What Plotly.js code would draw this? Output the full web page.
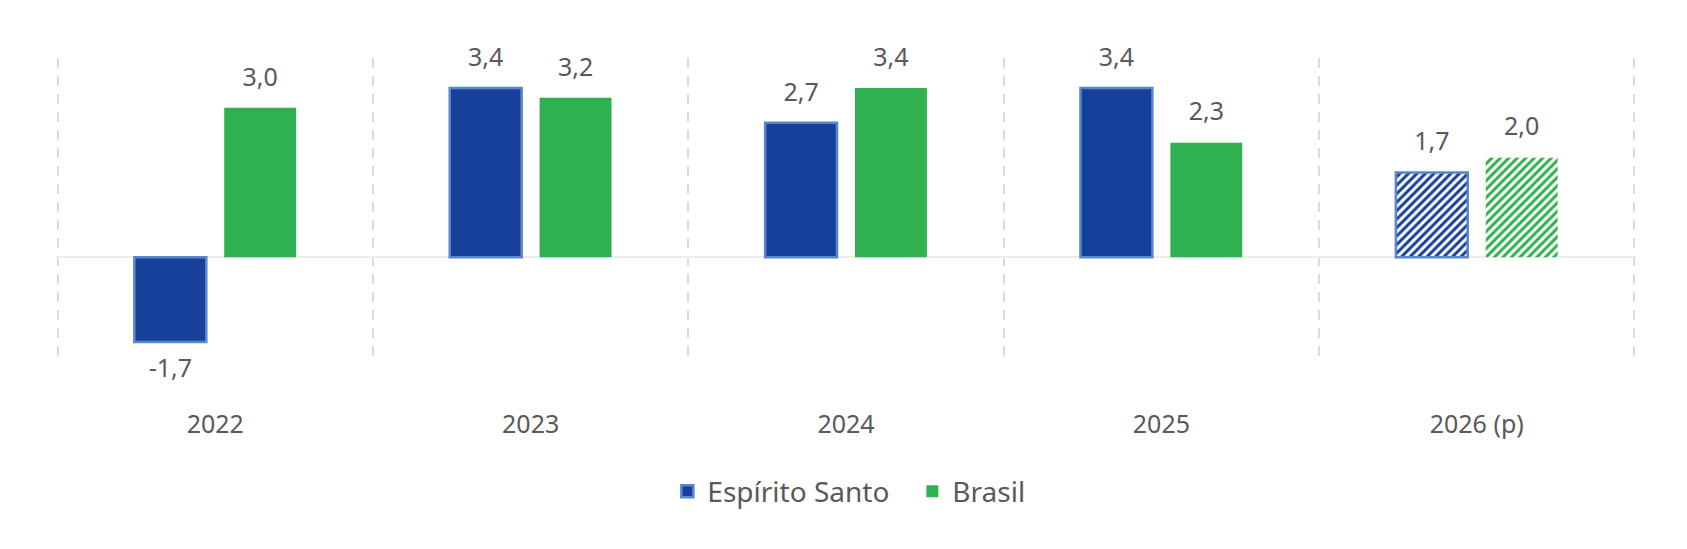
<!DOCTYPE html>
<html>
<head>
<meta charset="utf-8">
<script src="https://cdn.plot.ly/plotly-3.0.1.min.js"></script>
<style>html,body{margin:0;padding:0;background:#fff;}#chart{width:1687px;height:549px;}</style>
</head>
<body>
<div id="chart"></div>
<script>
const categories = ['2022', '2023', '2024', '2025', '2026 (p)'];
const espiritoSanto = [-1.7, 3.4, 2.7, 3.4, 1.7];
const brasil = [3.0, 3.2, 3.4, 2.3, 2.0];
const projected = [false, false, false, false, true];
const seriesNames = ['Espírito Santo', 'Brasil'];

const BLUE = '#17409a', BLUE_EDGE = '#5a86cc', GREEN = '#2eb14e';
const TEXT = '#595959';
const FONT = 'Noto Sans, Open Sans, sans-serif';
const BARGAP = 0.43;

function fmt(v) { return v.toFixed(1).replace('.', ','); }

function barTrace(name, values, color, edge, edgeW) {
  return {
    type: 'bar', name: name, x: categories, y: values,
    marker: {
      color: color,
      line: {color: edge, width: edgeW},
      pattern: {
        shape: projected.map(p => p ? '/' : ''),
        fgcolor: color, bgcolor: '#ffffff', size: 6, solidity: 0.5, fillmode: 'replace'
      }
    },
    hoverinfo: 'x+y+name'
  };
}

function labelTrace(values) {
  return {
    type: 'scatter', mode: 'markers+text', orientation: 'v',
    x: categories, y: values,
    text: values.map(fmt),
    textposition: values.map(v => v >= 0 ? 'top center' : 'bottom center'),
    textfont: {family: FONT, size: 25, color: TEXT},
    marker: {size: 24, opacity: 0},
    showlegend: false, hoverinfo: 'skip', cliponaxis: false
  };
}

const data = [
  barTrace(seriesNames[0], espiritoSanto, BLUE, BLUE_EDGE, 2.5),
  barTrace(seriesNames[1], brasil, GREEN, GREEN, 0),
  labelTrace(espiritoSanto),
  labelTrace(brasil)
];

const layout = {
  width: 1687, height: 549,
  margin: {l: 56, r: 51, t: 58, b: 192},
  paper_bgcolor: '#ffffff', plot_bgcolor: '#ffffff',
  font: {family: FONT, color: TEXT, size: 25},
  separators: ',.',
  barmode: 'group', bargap: BARGAP, bargroupgap: 0.2,
  scattermode: 'group', scattergap: BARGAP,
  showlegend: true,
  legend: {
    orientation: 'h', x: 0.542, xanchor: 'center', y: -0.45, yanchor: 'middle',
    font: {family: FONT, size: 28, color: TEXT}, traceorder: 'normal',
    entrywidth: 200, entrywidthmode: 'pixels'
  },
  xaxis: {
    type: 'category', range: [-0.505, 4.505], fixedrange: true,
    tickson: 'boundaries', ticks: '', showline: false,
    showgrid: true, gridcolor: '#dcdcdc', gridwidth: 2, griddash: '10px,8px',
    zeroline: false,
    tickfont: {family: FONT, size: 25, color: TEXT},
    ticklabelstandoff: 50
  },
  yaxis: {
    range: [-2, 4], fixedrange: true,
    showgrid: false, showticklabels: false, ticks: '', showline: false,
    zeroline: true, zerolinecolor: '#ececec', zerolinewidth: 2
  }
};

Plotly.newPlot('chart', data, layout, {displayModeBar: false, staticPlot: true});
</script>
</body>
</html>
